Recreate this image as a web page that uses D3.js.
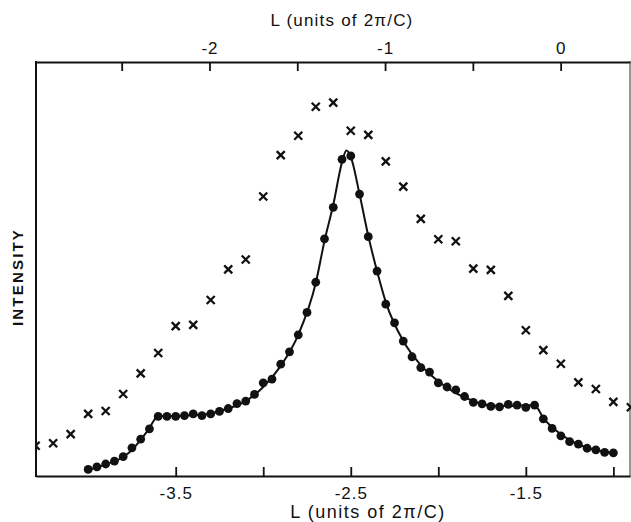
<!DOCTYPE html>
<html><head><meta charset="utf-8">
<script src="https://cdn.jsdelivr.net/npm/d3@7"></script>
<style>body{margin:0;background:#fff}svg{display:block}</style>
</head><body><svg id="c" width="631" height="522"></svg>
<script>
// ---- data (L in units of 2π/C, intensity in arbitrary units) ----
const dotL = [-4.00,-3.95,-3.90,-3.85,-3.80,-3.75,-3.70,-3.65,-3.60,-3.55,-3.50,-3.45,-3.40,-3.35,-3.30,-3.25,-3.20,-3.15,-3.10,-3.05,-3.00,-2.95,-2.90,-2.85,-2.80,-2.75,-2.70,-2.65,-2.60,-2.55,-2.50,-2.45,-2.40,-2.35,-2.30,-2.25,-2.20,-2.15,-2.10,-2.05,-2.00,-1.95,-1.90,-1.85,-1.80,-1.75,-1.70,-1.65,-1.60,-1.55,-1.50,-1.45,-1.40,-1.35,-1.30,-1.25,-1.20,-1.15,-1.10,-1.05,-1.00];
const dotI = [1.6,2.2,2.9,3.6,4.7,6.8,8.9,11.4,14.4,14.4,14.4,14.6,15.0,14.6,15.0,15.6,16.3,17.5,18.1,19.7,22.5,23.4,27.0,30.0,34.1,39.5,46.8,57.3,64.9,76.5,77.3,68.1,57.8,49.5,41.5,37.0,32.6,28.8,26.2,25.1,22.5,21.5,20.8,19.2,17.8,17.4,16.8,16.7,17.3,17.1,16.6,17.1,13.8,11.5,9.7,8.3,7.7,6.7,6.3,5.7,5.6];

const crossL = [-4.3,-4.2,-4.1,-4.0,-3.9,-3.8,-3.7,-3.6,-3.5,-3.4,-3.3,-3.2,-3.1,-3.0,-2.9,-2.8,-2.7,-2.6,-2.5,-2.4,-2.3,-2.2,-2.1,-2.0,-1.9,-1.8,-1.7,-1.6,-1.5,-1.4,-1.3,-1.2,-1.1,-1.0,-0.9];
const crossI = [7.3,7.9,10.1,15.0,15.7,19.8,24.8,29.7,36.2,36.5,42.5,49.9,52.3,67.5,77.5,82.2,89.2,90.2,83.4,82.4,76.0,69.9,62.1,57.2,56.7,50.1,49.8,43.5,35.2,30.4,27.1,22.6,21.0,17.9,16.6];

const fitL = [-4.0,-3.9,-3.8,-3.75,-3.7,-3.65,-3.6,-3.5,-3.4,-3.3,-3.2,-3.1,-3.0,-2.9,-2.8,-2.7,-2.65,-2.6,-2.55,-2.525,-2.5,-2.45,-2.4,-2.35,-2.3,-2.2,-2.1,-2.0,-1.9,-1.8,-1.7,-1.6,-1.45,-1.4,-1.3,-1.2,-1.1,-1.0];
const fitI = [1.4,2.8,4.6,6.3,8.7,11.6,14.5,14.5,14.7,15.1,16.3,18.1,21.5,26.6,34.1,46.6,56.8,65.5,75.8,78.6,77.1,68.1,58.0,49.5,42.0,32.6,26.8,22.9,20.0,18.1,17.0,16.9,17.1,14.0,10.1,7.6,6.3,5.6];

const bottomTicks = [-3.5,-3.0,-2.5,-2.0,-1.5,-1.0];
const bottomTickLabels = ["-3.5","","-2.5","","-1.5",""];
const topTicks = [-2.5,-2.0,-1.5,-1.0,-0.5,0];
const topTickLabels = ["","-2","","-1","","0"];

// ---- layout ----
const L = 36, R = 630, T = 62, B = 476;
const svg = d3.select("#c");
const x = d3.scaleLinear().domain([-4.298,-0.905]).range([L,R]);
const xTop = d3.scaleLinear().domain([-2.988,0.395]).range([L,R]);
const y = d3.scaleLinear().domain([0,100]).range([B,T]);
const font = "'Liberation Sans', Arial, Helvetica, sans-serif";

svg.append("defs").append("clipPath").attr("id","clip")
  .append("rect").attr("x",L).attr("y",T).attr("width",R-L+1).attr("height",B-T);

// axes
const axB = d3.axisBottom(x).tickValues(bottomTicks).tickSizeInner(-9).tickSizeOuter(0).tickPadding(11)
  .tickFormat((d,i)=>bottomTickLabels[i]);
const gB = svg.append("g").attr("transform",`translate(0,${B})`).call(axB);
const axT = d3.axisTop(xTop).tickValues(topTicks).tickSizeInner(-9).tickSizeOuter(0).tickPadding(8)
  .tickFormat((d,i)=>topTickLabels[i]);
const gT = svg.append("g").attr("transform",`translate(0,${T})`).call(axT);
[gB,gT].forEach(g=>{
  g.select(".domain").attr("stroke","#111").attr("stroke-width",2);
  g.selectAll(".tick line").attr("stroke","#111").attr("stroke-width",1.8);
  g.selectAll(".tick text").attr("fill","#111").style("font-family",font).style("font-size","17px")
    .style("letter-spacing","1px");
});
svg.append("line").attr("x1",L).attr("x2",L).attr("y1",T-1).attr("y2",B+1).attr("stroke","#111").attr("stroke-width",2);
svg.append("line").attr("x1",R).attr("x2",R).attr("y1",T-1).attr("y2",B+1).attr("stroke","#333").attr("stroke-width",1);

// titles
svg.append("text").attr("x",342).attr("y",26).attr("text-anchor","middle")
  .style("font-family",font).style("font-size","17px").style("letter-spacing","1.2px")
  .attr("fill","#111").text("L (units of 2\u03C0/C)");
svg.append("text").attr("x",368).attr("y",518).attr("text-anchor","middle")
  .style("font-family",font).style("font-size","18px").attr("fill","#111")
  .style("letter-spacing","1.5px").text("L  (units of 2\u03C0/C)");
svg.append("text").attr("transform","translate(23,277) rotate(-90)").attr("text-anchor","middle")
  .style("font-family",font).style("font-size","15px").style("font-weight","bold").style("letter-spacing","2.2px")
  .attr("fill","#111").text("INTENSITY");

// data
const plot = svg.append("g").attr("clip-path","url(#clip)");
const fit = fitL.map((d,i)=>[d,fitI[i]]);
plot.append("path").datum(fit)
  .attr("fill","none").attr("stroke","#111").attr("stroke-width",2)
  .attr("d", d3.line().x(d=>x(d[0])).y(d=>y(d[1])).curve(d3.curveMonotoneX));

plot.selectAll("circle.dot").data(dotL.map((d,i)=>[d,dotI[i]])).join("circle")
  .attr("class","dot").attr("cx",d=>x(d[0])).attr("cy",d=>y(d[1])).attr("r",4.4).attr("fill","#111");

const cs = 4;
plot.selectAll("path.cross").data(crossL.map((d,i)=>[d,crossI[i]])).join("path")
  .attr("class","cross")
  .attr("d",d=>{const cx=x(d[0]), cy=y(d[1]);
    return `M${cx-cs},${cy-cs}L${cx+cs},${cy+cs}M${cx-cs},${cy+cs}L${cx+cs},${cy-cs}`;})
  .attr("stroke","#111").attr("stroke-width",2.3).attr("fill","none");
</script>
</body></html>
